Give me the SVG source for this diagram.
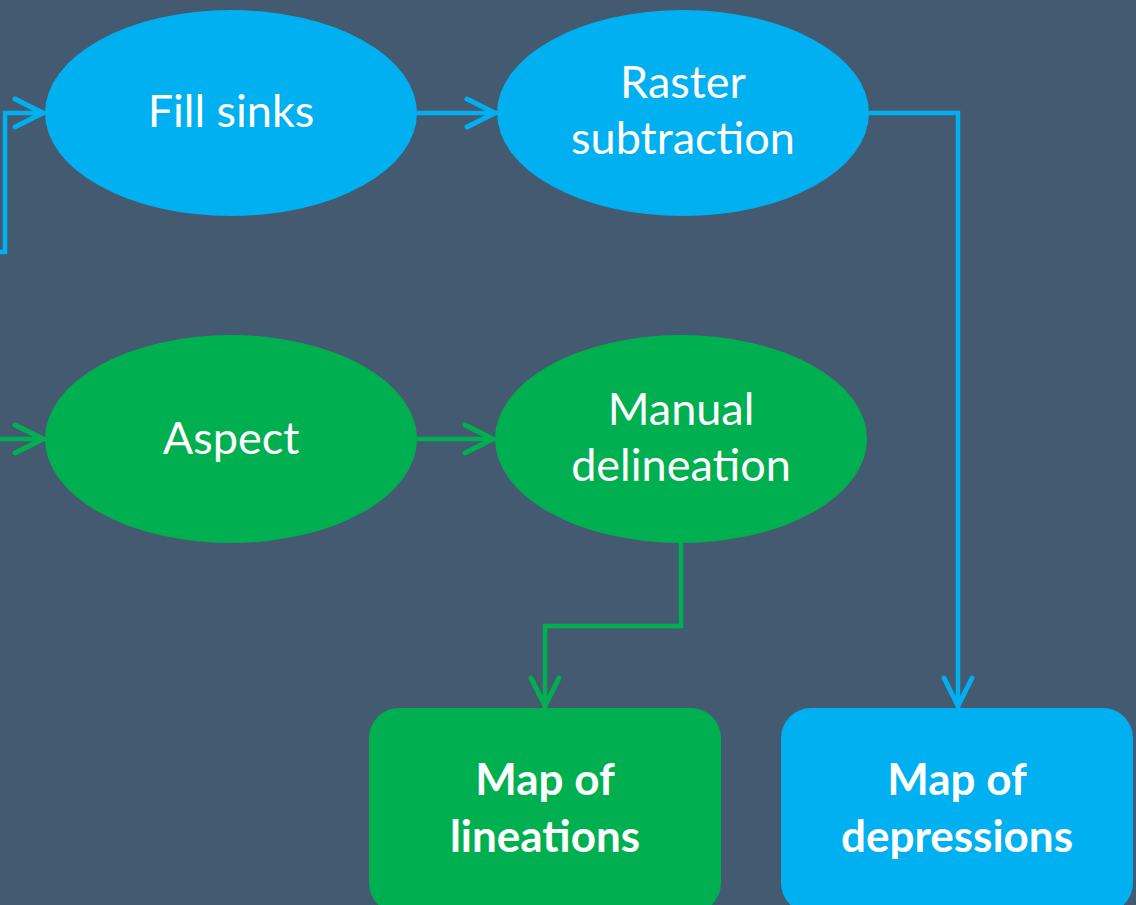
<svg xmlns="http://www.w3.org/2000/svg" width="1136" height="905" viewBox="0 0 1136 905">
<style>
.t{font-family:Lato,"Liberation Sans",sans-serif;fill:#fff;text-anchor:middle;font-size:45px}
.b{font-weight:bold;font-size:44px}
.blue{fill:#00b0f0}
.green{fill:#00b050}
.cb{fill:none;stroke:#00b0f0;stroke-width:4.5}
.cg{fill:none;stroke:#00b050;stroke-width:4.5}
</style>
<defs>
<marker id="ab" markerUnits="userSpaceOnUse" markerWidth="40" markerHeight="40" viewBox="-36 -20 40 40" refX="0" refY="0" orient="auto" overflow="visible">
<path d="M-30,-14 L-2,0 L-30,14" fill="none" stroke="#00b0f0" stroke-width="5" stroke-linecap="round" stroke-linejoin="miter"/>
</marker>
<marker id="ag" markerUnits="userSpaceOnUse" markerWidth="40" markerHeight="40" viewBox="-36 -20 40 40" refX="0" refY="0" orient="auto" overflow="visible">
<path d="M-30,-14 L-2,0 L-30,14" fill="none" stroke="#00b050" stroke-width="5" stroke-linecap="round" stroke-linejoin="miter"/>
</marker>
</defs>
<rect width="1136" height="905" fill="#435a70"/>
<g id="connectors">
<path class="cb" d="M-10,252 H5 V113 H45" marker-end="url(#ab)"/>
<path class="cb" d="M417,113 H497" marker-end="url(#ab)"/>
<path class="cb" d="M869,113 H958 V708" marker-end="url(#ab)"/>
<path class="cg" d="M-10,439 H45" marker-end="url(#ag)"/>
<path class="cg" d="M417,439 H495" marker-end="url(#ag)"/>
<path class="cg" d="M681,543 V626 H545 V708" marker-end="url(#ag)"/>
</g>
<g id="fill-sinks">
<ellipse class="blue" cx="231" cy="113" rx="186" ry="103"/>
<text class="t" x="231" y="127">Fill sinks</text>
</g>
<g id="raster-subtraction">
<ellipse class="blue" cx="683" cy="113" rx="186" ry="103"/>
<text class="t" x="683" y="98">Raster</text>
<text class="t" x="683" y="154">subtraction</text>
</g>
<g id="aspect">
<ellipse class="green" cx="231" cy="439" rx="186" ry="104"/>
<text class="t" x="231" y="454">Aspect</text>
</g>
<g id="manual-delineation">
<ellipse class="green" cx="681" cy="439" rx="186" ry="104"/>
<text class="t" x="681" y="425">Manual</text>
<text class="t" x="681" y="481">delineation</text>
</g>
<g id="map-lineations">
<rect class="green" x="369" y="708" width="352" height="205" rx="30"/>
<text class="t b" x="545" y="795">Map of</text>
<text class="t b" x="545" y="852">lineations</text>
</g>
<g id="map-depressions">
<rect class="blue" x="781" y="708" width="352" height="205" rx="30"/>
<text class="t b" x="957" y="795">Map of</text>
<text class="t b" x="957" y="852">depressions</text>
</g>
</svg>
